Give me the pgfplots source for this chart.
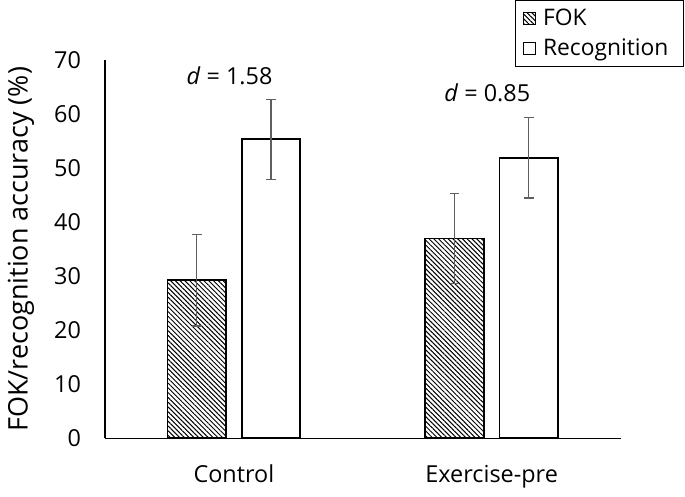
\documentclass[border=0pt]{standalone}
\usepackage{pgfplots}
\pgfplotsset{compat=1.18}
\usepackage{fontspec}
\setmainfont{Open Sans}
\usetikzlibrary{patterns.meta}
\definecolor{errgray}{RGB}{95,95,95}
\newcommand{\chartfont}{\fontsize{11.8}{14}\selectfont}
\begin{document}
\chartfont
\begin{tikzpicture}
\begin{axis}[
  name=ax,
  at={(0,0)}, anchor=south west,
  scale only axis,
  width=260pt, height=190.5pt,
  xmin=-0.5, xmax=1.5,
  ymin=0, ymax=70,
  ytick={0,10,...,70},
  xtick={0,1},
  xticklabels={Control, Exercise-pre},
  major tick length=0pt,
  axis x line=bottom, axis y line=left,
  axis line style={-, line width=0.75pt, black},
  /pgf/number format/assume math mode=true,
  ticklabel style={font=\chartfont},
  yticklabel style={anchor=east, xshift=-8pt},
  xticklabel style={anchor=base, yshift=-22.5pt},
  ylabel={FOK/recognition accuracy (\%)},
  ylabel style={font=\fontsize{13.6}{16}\selectfont, at={(axis description cs:-0.163,0.5)}, anchor=center},
  ybar,
  bar width=29.5pt,
  clip=false,
  legend style={at={(1.123,1.16)}, anchor=north east, draw=black, line width=0.65pt,
    font=\fontsize{11.5}{13.5}\selectfont, inner xsep=4pt, inner ysep=2pt, row sep=1pt,
    legend cell align=left, nodes={inner xsep=3.5pt}},
  legend image code/.code={\draw[#1, line width=0.5pt] (4pt,-3pt) rectangle (10pt,3pt);},
  error bars/error bar style={errgray, line width=0.6pt},
  error bars/error mark options={errgray, line width=0.6pt, mark size=2.5pt, rotate=90},
]
\addplot[bar shift=-18.75pt, draw=black, line width=0.9pt,
  pattern={Lines[angle=-45, distance=1.7pt, line width=0.5pt]}, pattern color=black,
  error bars/.cd, y dir=both, y explicit]
  coordinates {(0,29.3) +- (0,8.5) (1,37.0) +- (0,8.4)};
\addlegendentry{FOK}
\addplot[bar shift=18.75pt, draw=black, fill=white, line width=0.9pt,
  error bars/.cd, y dir=both, y explicit]
  coordinates {(0,55.4) +- (0,7.4) (1,52.0) +- (0,7.5)};
\addlegendentry{Recognition}
\node[font=\chartfont] at (axis cs:-0.017,67.1) {\textit{d} = 1.58};
\node[font=\chartfont] at (axis cs:0.983,64.1) {\textit{d} = 0.85};
\end{axis}
\path[use as bounding box] (-50pt,-27pt) rectangle (292.5pt,221pt);
\end{tikzpicture}
\end{document}
